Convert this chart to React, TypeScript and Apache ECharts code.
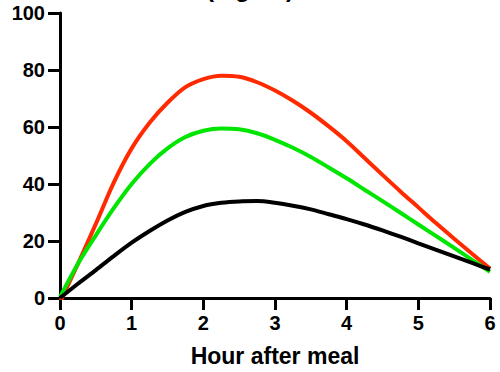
import React, { useEffect, useRef } from "react";
import * as echarts from "echarts";

const hours = [0, 0.25, 0.5, 0.75, 1, 1.25, 1.5, 1.75, 2, 2.25, 2.5, 2.75, 3, 3.25, 3.5, 3.75, 4, 4.25, 4.5, 4.75, 5, 5.25, 5.5, 5.75, 6];
const redValues = [-1.5, 12, 26, 40.5, 52.5, 61.5, 68.5, 74, 76.8, 78, 77.6, 75.7, 72.8, 69.2, 65, 60.2, 55, 49.1, 43.2, 37.4, 31.8, 26.2, 20.8, 15.5, 10.3];
const greenValues = [0.3, 12, 22, 31.5, 40, 47, 52.5, 56.5, 58.7, 59.5, 59.2, 57.8, 55.5, 52.7, 49.5, 45.8, 42, 38, 34, 29.9, 25.8, 21.7, 17.6, 13.4, 9.2];
const blackValues = [0, 5, 9.8, 14.7, 19.4, 23.5, 27.2, 30.2, 32.3, 33.4, 33.9, 34, 33.4, 32.4, 31.1, 29.4, 27.7, 25.8, 23.7, 21.5, 19.2, 16.9, 14.6, 12.3, 10];
const yTicks = [0, 20, 40, 60, 80, 100];
const xTicks = [0, 1, 2, 3, 4, 5, 6];
const titleText = "(mg/dL)";
const xName = "Hour after meal";

const FONT = "Liberation Sans, Arial, sans-serif";

function pairs(xs: number[], ys: number[]) {
  return xs.map((x, i) => [x, ys[i]]);
}

export default function App() {
  const ref = useRef<HTMLDivElement>(null);
  useEffect(() => {
    if (!ref.current) return;
    const chart = echarts.init(ref.current, undefined, { renderer: "svg" });
    const axisStyle = { lineStyle: { color: "#000", width: 3 } };
    const line = (name: string, ys: number[], color: string) => ({
      name,
      type: "line",
      data: pairs(hours, ys),
      smooth: 0.3,
      showSymbol: false,
      symbol: "none",
      lineStyle: { color, width: 4 },
      z: 2,
    });
    chart.setOption({
      animation: false,
      backgroundColor: "#fff",
      title: {
        text: titleText,
        left: "center",
        top: -29,
        textStyle: { fontFamily: FONT, fontWeight: "bold", fontSize: 24, color: "#000" },
      },
      grid: { left: 60, right: 10, top: 13, bottom: 74 },
      xAxis: {
        type: "value",
        min: xTicks[0],
        max: xTicks[xTicks.length - 1],
        interval: 1,
        name: xName,
        nameLocation: "middle",
        nameGap: 46,
        nameTextStyle: { fontFamily: FONT, fontWeight: "bold", fontSize: 23, color: "#000" },
        axisLine: axisStyle,
        axisTick: { show: true, length: 12, lineStyle: { color: "#000", width: 3 } },
        axisLabel: { margin: 15, fontFamily: FONT, fontWeight: "bold", fontSize: 20, color: "#000" },
        splitLine: { show: false },
      },
      yAxis: {
        type: "value",
        min: yTicks[0],
        max: yTicks[yTicks.length - 1],
        interval: 20,
        axisLine: { show: true, ...axisStyle },
        axisTick: { show: true, length: 12, lineStyle: { color: "#000", width: 3 } },
        axisLabel: { margin: 15, fontFamily: FONT, fontWeight: "bold", fontSize: 20, color: "#000" },
        splitLine: { show: false },
      },
      series: [
        line("Red", redValues, "#ff2a00"),
        line("Green", greenValues, "#00e600"),
        line("Black", blackValues, "#000000"),
      ],
    });
    return () => chart.dispose();
  }, []);
  return <div ref={ref} style={{ width: 500, height: 372, position: "absolute", left: 0, top: 0 }} />;
}
